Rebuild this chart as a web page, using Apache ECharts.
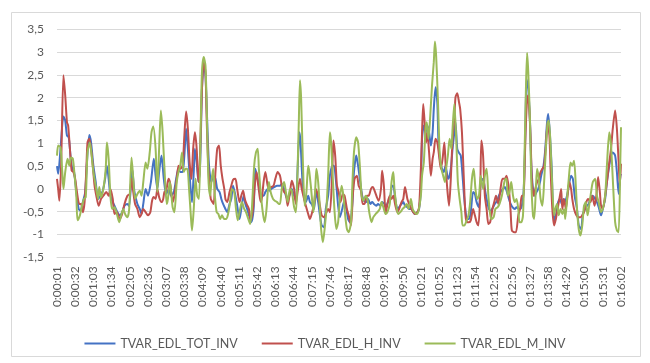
<!DOCTYPE html>
<html>
<head>
<meta charset="utf-8">
<script src="https://cdn.jsdelivr.net/npm/echarts@6/dist/echarts.min.js"></script>
<style>
html,body{margin:0;padding:0;background:#fff;}
#chart{width:650px;height:363px;}
</style>
</head>
<body>
<div id="chart"></div>
<script>
// Tick labels on the time axis (one every 31 s)
var tickLabels = ["0:00:01","0:00:32","0:01:03","0:01:34","0:02:05","0:02:36","0:03:07","0:03:38","0:04:09","0:04:40","0:05:11","0:05:42","0:06:13","0:06:44","0:07:15","0:07:46","0:08:17","0:08:48","0:09:19","0:09:50","0:10:21","0:10:52","0:11:23","0:11:54","0:12:25","0:12:56","0:13:27","0:13:58","0:14:29","0:15:00","0:15:31","0:16:02"];
var seriesNames = ["TVAR_EDL_TOT_INV","TVAR_EDL_H_INV","TVAR_EDL_M_INV"];

// TVAR_EDL_TOT_INV : time (s) / value
var totT = [1,3,7,12,15,18,21,24,27,30,34,38,41,45,49,52,56,59,63,67,71,75,79,83,86,89,92,96,100,104,108,112,116,121,124,129,133,138,142,145,148,152,156,161,166,169,172,175,179,183,187,192,195,200,204,208,211,215,218,221,224,227,231,234,236,239,242,245,248,251,254,257,260,264,267,271,274,278,281,284,288,291,295,298,301,305,308,312,315,319,322,325,329,332,336,339,343,346,349,353,356,360,363,366,371,376,381,384,388,391,394,398,401,405,408,411,414,416,419,422,425,429,432,435,439,442,446,449,452,456,459,463,466,470,473,476,480,483,487,490,494,497,500,504,507,511,514,517,521,524,528,531,535,538,541,545,548,552,555,559,562,565,569,572,574,577,581,584,588,591,594,598,601,605,608,611,615,618,621,623,626,629,632,635,638,641,643,646,649,651,654,657,660,663,666,668,672,675,678,680,683,686,689,692,695,698,700,703,706,710,713,716,720,723,727,730,733,737,740,744,747,751,754,757,761,764,767,771,774,777,781,784,788,791,795,797,799,801,804,807,809,812,815,818,821,824,826,830,833,836,838,841,844,846,849,852,855,858,861,864,866,870,873,877,880,883,887,890,894,897,901,904,907,911,914,918,921,924,928,931,935,938,942,945,948,952,955,958,961,962];
var totV = [0.50,0.33,0.88,1.59,1.50,1.17,1.13,0.73,0.44,0.38,-0.07,-0.44,-0.48,-0.29,-0.07,0.58,1.18,1.02,0.51,0.15,-0.22,-0.15,-0.04,0.22,0.51,0.22,-0.15,-0.29,-0.40,-0.51,-0.58,-0.51,-0.37,-0.33,-0.38,0.44,-0.07,-0.33,-0.44,-0.55,-0.33,0,-0.15,0.15,0.66,0.29,0,0.37,0.73,0.22,-0.11,0,-0.15,-0.07,0.22,0.44,0.37,0.37,0.73,1.32,0.88,0.29,-0.29,0.37,0.88,0.58,0.15,0.58,2.19,2.70,2.49,1.46,0.51,0.15,0.29,0.22,0,-0.07,-0.22,-0.33,-0.44,-0.51,-0.33,-0.22,0.07,-0.15,-0.37,-0.66,-0.44,-0.15,-0.33,-0.44,-0.62,-0.73,-0.44,0.44,0.22,0,-0.15,-0.15,-0.07,0,-0.04,0,0.04,0.07,0.07,0.11,0,-0.15,-0.22,-0.11,0,-0.15,-0.26,0.44,1.24,1.02,0.22,-0.18,-0.29,-0.15,-0.29,-0.33,-0.44,-0.07,-0.29,-0.58,-0.80,-0.84,-0.44,-0.15,0.29,0.51,0.51,0.22,-0.37,-0.62,-0.44,-0.29,-0.44,-0.66,-0.73,-0.37,0.37,0.73,0.51,0.22,-0.15,-0.26,-0.29,-0.22,-0.33,-0.29,-0.33,-0.37,-0.33,-0.37,-0.29,-0.33,-0.37,-0.29,-0.15,0.07,0.07,-0.18,-0.44,-0.40,-0.33,-0.29,-0.37,-0.40,-0.44,-0.44,-0.51,-0.55,-0.51,-0.44,0,1.10,1.39,1.24,1.39,1.24,0.95,1.24,1.75,2.23,1.90,1.02,0.58,0.44,0.37,0.51,0.29,0.22,0.44,0.88,1.24,1.46,0.88,0.79,0.73,0.29,-0.22,-0.58,-0.66,-0.66,-0.51,-0.07,-0.11,-0.29,-0.40,0.15,0.22,0,-0.22,-0.44,-0.48,-0.40,-0.33,-0.26,-0.15,-0.07,0,0.04,-0.04,-0.22,-0.33,-0.40,-0.44,-0.40,-0.44,-0.44,-0.22,0.22,1.24,2.41,2.19,1.46,0.58,0,-0.15,-0.07,0,0.15,0.29,0.51,0.88,1.46,1.64,1.17,0.44,-0.37,-0.73,-0.51,-0.29,-0.22,-0.33,-0.22,-0.29,-0.15,0.07,0.29,0.22,-0.15,-0.44,-0.80,-0.88,-0.55,-0.44,-0.37,-0.33,-0.18,-0.15,-0.22,-0.29,-0.40,-0.58,-0.44,-0.22,0.15,0.51,0.73,0.80,0.73,0.37,-0.11,0.29,0.33];

// TVAR_EDL_H_INV : time (s) / value
var hT = [1,3,5,8,12,15,18,20,23,26,29,32,35,39,42,45,48,51,53,56,59,62,65,68,72,76,80,85,89,92,96,99,103,108,112,116,121,125,128,131,134,138,142,145,148,152,156,160,163,166,169,172,175,179,182,184,187,191,194,198,201,205,208,211,215,218,221,224,227,230,233,236,239,242,244,248,251,254,256,259,263,266,268,271,274,277,280,283,286,288,291,295,298,301,305,308,312,315,318,321,324,328,331,335,338,341,344,347,349,353,356,360,363,366,370,373,377,381,384,388,391,394,398,401,405,408,411,415,418,422,425,429,432,435,439,442,446,449,452,456,459,463,466,470,472,475,478,481,484,488,491,495,498,502,505,508,512,515,519,522,525,529,532,536,539,543,546,549,553,555,558,561,564,568,571,574,577,581,584,588,591,594,598,601,605,608,611,615,618,621,623,625,627,630,632,635,638,641,643,646,649,652,655,658,661,663,666,669,672,675,678,680,683,686,688,691,694,697,700,703,706,710,713,716,719,722,724,727,730,733,736,739,743,746,749,753,756,760,764,767,771,774,776,780,783,787,790,793,796,798,800,803,805,808,810,813,816,819,822,825,828,831,834,837,840,842,845,848,851,854,857,860,862,865,868,871,874,877,879,882,886,889,893,896,899,903,906,910,913,917,920,923,926,928,931,935,938,942,945,948,952,955,958,960,962];
var hV = [0.22,0,-0.26,0.51,2.49,2.05,1.46,1.39,0.88,0.40,0.37,0.22,-0.07,-0.33,-0.33,-0.51,-0.29,0.44,1.02,1.10,0.88,0.51,0.07,-0.15,-0.37,-0.22,-0.15,-0.07,-0.15,0,-0.22,-0.55,-0.51,-0.66,-0.55,-0.33,-0.15,-0.11,0.22,-0.07,-0.33,-0.44,-0.62,-0.55,-0.44,-0.51,-0.58,-0.51,-0.26,-0.18,-0.22,0,-0.18,-0.29,-0.22,-0.07,-0.04,0.22,0.11,-0.29,-0.15,0.22,0.51,0.44,0.51,1.17,1.70,1.32,0.58,0.22,0.88,1.24,0.88,0.15,0.44,2.19,2.78,2.56,1.54,0.44,-0.22,-0.29,-0.33,0.37,0.88,0.95,0.51,0.22,0,-0.22,-0.29,-0.07,0.07,0.20,0.22,0,-0.29,-0.15,-0.04,-0.22,-0.33,-0.44,-0.69,-0.44,0.07,0.37,0.07,-0.22,-0.29,0.15,0.37,0.07,0,0.04,0.07,0.22,0.37,0.29,0.07,-0.07,-0.11,-0.37,-0.07,0.18,0,-0.33,-0.07,0.22,0,-0.22,-0.37,-0.55,-0.66,-0.55,-0.33,0,-0.15,-0.37,-0.58,-0.62,-0.55,-0.44,-0.51,0.37,1.06,0.73,0.07,-0.07,-0.29,-0.11,-0.15,-0.44,-0.58,-0.80,-0.15,0.22,0.29,0.07,-0.04,-0.33,-0.33,-0.15,-0.15,0,0.04,-0.07,-0.18,-0.26,0,0.40,0.07,-0.55,-0.33,-0.15,-0.22,-0.15,-0.33,-0.51,-0.44,-0.29,-0.22,0.04,-0.22,-0.33,-0.44,-0.51,-0.55,-0.51,-0.40,0.44,1.24,1.86,1.54,1.02,1.24,0.80,0.29,0.66,0.80,1.10,1.02,0.73,0.44,0.66,1.02,0.58,0,-0.37,0.22,1.10,1.54,2.01,2.10,1.90,1.75,1.24,0.29,-0.58,-0.73,-0.73,-0.69,-0.44,-0.58,-0.73,-0.80,-0.15,1.06,0.73,-0.15,-0.44,-0.77,-0.73,-0.44,-0.29,-0.15,-0.33,-0.07,0.22,0.22,0.29,0,-0.51,-0.91,-0.95,-0.95,-0.58,-0.44,-0.15,-0.15,0.58,1.46,2.05,1.90,1.10,0.22,-0.15,0,0.15,0.22,0.37,0.44,0.51,0.95,1.46,1.17,0.44,-0.44,-0.80,-0.66,-0.44,-0.22,0,-0.44,-0.22,-0.44,-0.15,0.15,0,-0.22,-0.44,-0.58,-0.62,-0.62,-0.58,-0.51,-0.29,-0.22,-0.29,-0.15,-0.37,-0.15,0.26,-0.07,-0.37,-0.44,-0.15,0.15,0.58,0.88,1.32,1.72,1.32,0.58,0.07,0.55];

// TVAR_EDL_M_INV : time (s) / value
var mT = [1,3,7,10,12,15,19,22,25,28,31,34,36,40,43,47,50,53,57,60,63,67,71,73,76,80,84,86,89,92,95,99,103,107,111,114,117,121,124,128,131,134,138,142,145,148,152,155,159,162,165,169,172,175,178,181,185,188,190,193,195,198,201,205,208,211,214,217,220,223,226,229,231,234,237,240,243,246,248,251,254,256,259,262,264,267,270,273,276,279,282,286,289,292,296,299,303,306,309,313,316,320,323,327,330,333,337,340,343,345,348,352,355,358,362,365,369,372,376,379,381,384,388,391,394,398,401,405,408,410,413,415,417,420,423,426,429,431,434,438,441,443,446,449,451,454,457,460,463,466,468,471,474,477,480,483,486,489,492,495,498,502,504,507,511,514,517,520,523,527,530,533,537,540,544,547,551,554,557,561,564,568,571,574,576,580,583,586,590,593,597,600,604,607,610,614,617,621,623,626,629,631,634,637,640,643,645,647,650,653,656,659,662,664,667,670,673,675,678,681,684,687,690,692,695,698,702,705,708,711,714,717,720,723,727,730,733,736,739,741,745,748,752,755,759,762,765,767,769,772,775,778,781,784,787,789,792,795,797,800,802,804,807,809,812,814,817,819,822,825,828,831,834,837,839,842,845,848,850,853,856,859,862,865,867,870,873,876,879,882,885,887,890,893,896,899,902,905,907,911,914,918,921,924,928,931,935,938,942,945,948,952,955,958,961,962];
var mV = [0.73,0.95,0.91,0.37,0,0.37,0.66,0.51,0.69,0.66,0.29,-0.18,-0.69,-0.58,-0.40,-0.22,-0.18,0.80,1.02,0.73,0.37,0.07,-0.22,0.04,-0.18,0,0.44,1.02,0.66,-0.15,-0.44,-0.40,-0.55,-0.73,-0.55,-0.44,-0.55,-0.62,-0.44,0.69,0.22,-0.22,-0.11,-0.04,-0.15,0.15,0.58,0.44,0.80,1.24,1.37,0.88,-0.07,0.88,1.72,1.24,0.22,-0.33,-0.22,0.15,0,-0.40,-0.51,0.15,0.37,0.51,0.80,0.37,0.44,0.44,0,-0.58,-0.91,-0.44,0.22,-0.15,-0.22,1.46,2.56,2.89,2.70,1.83,0.22,-0.15,0.15,0.44,-0.15,-0.51,-0.55,-0.66,-0.58,-0.66,-0.66,-0.58,-0.29,0,-0.07,-0.44,-0.69,-0.44,-0.29,-0.44,-0.51,-0.66,-0.77,-0.44,0.51,0.80,0.88,0.44,-0.07,-0.55,-0.73,-0.44,0.15,-0.07,-0.22,-0.26,-0.29,-0.33,-0.33,0,0.15,-0.07,-0.29,0,-0.04,-0.40,-0.51,0,1.46,2.38,1.97,0.58,-0.37,-0.07,0.51,0.37,0,-0.51,0,0.44,0.15,-0.44,-0.88,-1.17,-0.88,-0.44,0.29,1.24,1.02,0.22,-0.51,-0.88,-0.73,-0.22,0.07,-0.15,-0.58,-0.88,-0.95,-0.73,0,0.80,1.13,1.02,0.51,-0.15,-0.26,-0.15,-0.22,-0.51,-0.73,-0.62,-0.55,-0.51,-0.44,-0.29,-0.40,-0.55,-0.51,-0.33,0.15,0.37,0,-0.44,-0.55,-0.51,-0.44,-0.40,-0.33,-0.44,-0.22,-0.44,-0.51,-0.55,-0.48,-0.15,0.29,0.58,1.32,1.46,1.10,1.61,2.27,2.78,3.23,2.92,1.97,0.80,0.44,0.29,0.15,0.44,0.73,1.10,0.88,1.32,1.86,1.17,0.15,-0.22,-0.51,-0.80,-0.80,-0.73,-0.58,-0.29,0.22,0.44,0,-0.22,-0.15,0.29,0,0.29,0.44,-0.15,-0.55,-0.66,-0.62,-0.44,-0.40,-0.33,-0.15,0.07,0.22,0.22,-0.15,-0.07,0.15,-0.15,-0.29,-0.22,-0.44,-0.73,-0.73,-0.58,0.37,2.19,2.98,2.56,1.46,0.22,-0.58,-0.66,0,0.44,0.22,-0.22,-0.37,0.15,0.88,1.46,1.50,0.95,0,-0.58,-0.44,-0.33,-0.58,-0.44,-0.55,-0.44,-0.66,-0.22,0.22,0.58,0.51,0.62,0.07,-0.44,-0.88,-1.02,-0.80,-0.37,-0.29,-0.58,-0.44,-0.07,0.15,0.22,-0.15,-0.29,-0.51,-0.44,-0.15,0.51,1.24,0.95,0.22,-0.73,-0.91,-0.95,0.73,1.35];

var yTicks = {min: -1.5, max: 3.5, step: 0.5};

function pairs(ts, vs) {
  var out = [];
  for (var i = 0; i < ts.length; i++) out.push([ts[i] - 1, vs[i]]);
  return out;
}

var colors = ['#4472C4', '#C0504D', '#9BBB59'];
var font = 'Lato, "Open Sans", sans-serif';
var chart = echarts.init(document.getElementById('chart'), null, {renderer: 'canvas'});
var mk = function (name, ts, vs, c) {
  return {
    name: name, type: 'line', data: pairs(ts, vs), symbol: 'none', showSymbol: false,
    smooth: 0.25, lineStyle: {color: c, width: 2}, itemStyle: {color: c}, animation: false
  };
};
chart.setOption({
  animation: false,
  backgroundColor: '#ffffff',
  graphic: [{
    type: 'rect', shape: {x: 11.5, y: 12.5, width: 629, height: 344},
    style: {fill: 'none', stroke: '#d9d9d9', lineWidth: 1}, silent: true
  }],
  grid: {left: 57, right: 29, top: 29.3, bottom: 105.7, containLabel: false},
  xAxis: {
    type: 'value', min: 0, max: 961, interval: 31,
    axisLine: {show: true, onZero: false, lineStyle: {color: '#d9d9d9', width: 1}},
    axisTick: {show: false},
    splitLine: {show: false},
    axisLabel: {
      rotate: 90, margin: 9, color: '#595959', fontSize: 12, fontFamily: font,
      showMinLabel: true, showMaxLabel: true,
      formatter: function (v) { return tickLabels[Math.round(v / 31)] || ''; }
    }
  },
  yAxis: {
    type: 'value', min: yTicks.min, max: yTicks.max, interval: yTicks.step,
    axisLine: {show: false}, axisTick: {show: false},
    splitLine: {show: true, lineStyle: {color: '#d9d9d9', width: 1}},
    axisLabel: {
      margin: 13, color: '#595959', fontSize: 12, fontFamily: font,
      formatter: function (v) { return String(Math.round(v * 10) / 10).replace('.', ','); }
    }
  },
  legend: {
    data: seriesNames.map(function (n) { return {name: n, icon: 'rect'}; }),
    top: 332, left: 'center', itemWidth: 31, itemHeight: 2, itemGap: 24,
    textStyle: {color: '#595959', fontSize: 12.5, fontFamily: font, padding: [0, 0, 0, 0]}
  },
  series: [
    mk(seriesNames[0], totT, totV, colors[0]),
    mk(seriesNames[1], hT, hV, colors[1]),
    mk(seriesNames[2], mT, mV, colors[2])
  ]
});
</script>
</body>
</html>
